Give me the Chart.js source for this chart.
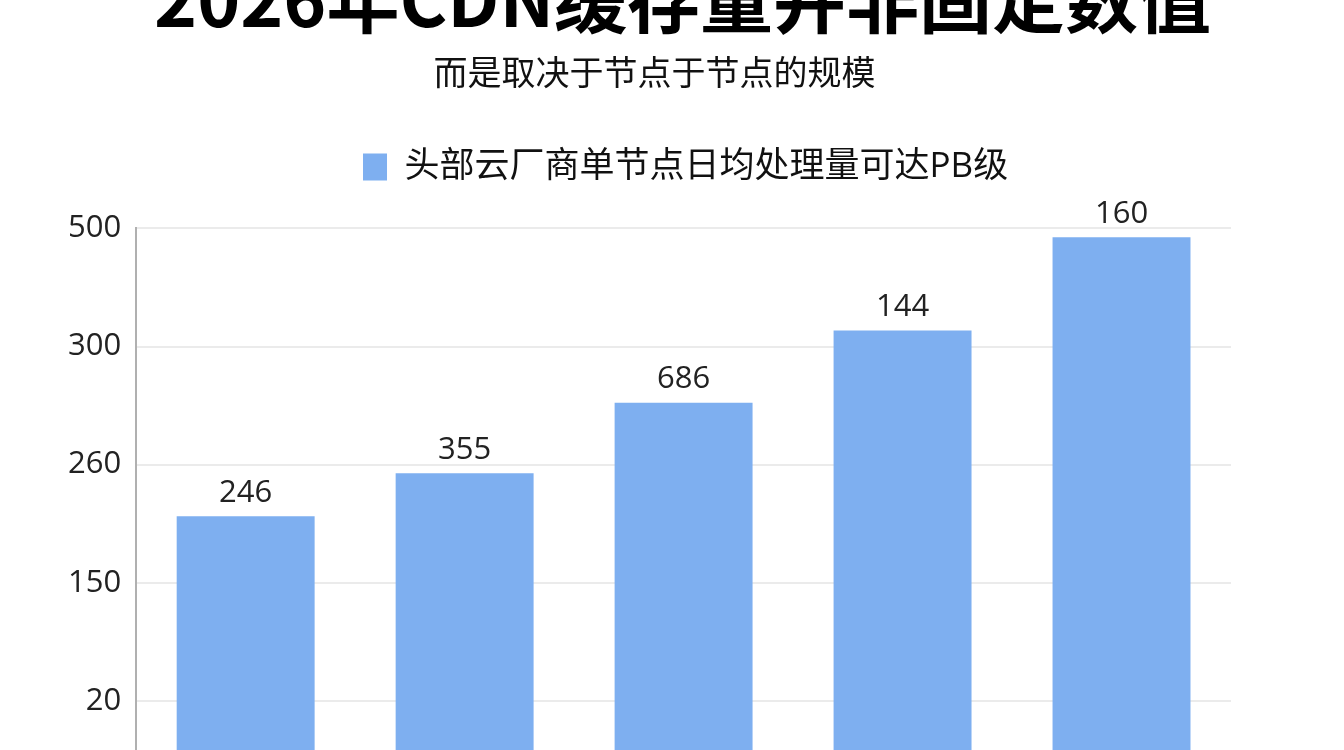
<!DOCTYPE html>
<html>
<head>
<meta charset="utf-8">
<script src="https://cdn.jsdelivr.net/npm/chart.js@4"></script>
<style>
  html, body { margin: 0; padding: 0; background: #ffffff; overflow: hidden; }
  #wrap { position: absolute; left: 0; top: -40px; width: 1344px; height: 929px; }
</style>
</head>
<body>
<div id="wrap"><canvas id="cdnChart"></canvas></div>
<script>
// values
const categories = ['节点1', '节点2', '节点3', '节点4', '节点5'];
const barValues = [212, 252, 281, 327, 485];      // bar heights against the y axis
const barLabels = ['246', '355', '686', '144', '160']; // numbers printed above the bars
const yTicks = [0, 20, 150, 260, 300, 500];       // y axis tick labels (evenly spaced)

const titleText = '2026年CDN缓存量并非固定数值';
const subtitleText = '而是取决于节点于节点的规模';
const seriesName = '头部云厂商单节点日均处理量可达PB级';

const barColor = '#7eaff0';
const fontFamily = '"Open Sans", "Noto Sans CJK SC", sans-serif';

// y axis whose ticks sit at equal spacing, linear between neighbouring ticks
class StopScale extends Chart.LinearScale {
    determineDataLimits() {
        const s = this.options.stops;
        this.min = s[0];
        this.max = s[s.length - 1];
    }
    buildTicks() {
        return this.options.stops.map(v => ({ value: v }));
    }
    _decimalFor(value) {
        const s = this.options.stops;
        const n = s.length - 1;
        if (value <= s[0]) return 0;
        for (let i = 0; i < n; i++) {
            if (value <= s[i + 1]) {
                return (i + (value - s[i]) / (s[i + 1] - s[i])) / n;
            }
        }
        return 1;
    }
    getPixelForValue(value) {
        return this.getPixelForDecimal(this._decimalFor(value));
    }
    getValueForPixel(pixel) {
        const s = this.options.stops;
        const n = s.length - 1;
        const d = this.getDecimalForPixel(pixel) * n;
        const i = Math.max(0, Math.min(n - 1, Math.floor(d)));
        return s[i] + (d - i) * (s[i + 1] - s[i]);
    }
}
StopScale.id = 'stops';
StopScale.defaults = Chart.LinearScale.defaults;
Chart.register(StopScale);

// extra room under the legend
const legendGap = {
    id: 'legendGap',
    beforeInit(chart) {
        const fit = chart.legend.fit;
        chart.legend.fit = function () {
            fit.bind(chart.legend)();
            this.height += 34;
        };
    }
};

// header blocks are centred over the plot area rather than the whole canvas
const centreHeaders = {
    id: 'centreHeaders',
    afterLayout(chart) {
        const area = chart.chartArea;
        const mid = (area.left + area.right) / 2;
        const shifts = { title: -1, subtitle: -29, legend: 2 };
        chart.boxes.forEach(box => {
            let key = null;
            if (box === chart.titleBlock) key = 'title';
            else if (box === chart.legend) key = 'legend';
            else if (box.options && box.options.text === subtitleText) key = 'subtitle';
            if (!key) return;
            const dx = mid + shifts[key] - (box.left + box.right) / 2;
            box.left += dx;
            box.right += dx;
        });
    }
};

// numbers above the bars
const barNumbers = {
    id: 'barNumbers',
    afterDatasetsDraw(chart) {
        const ctx = chart.ctx;
        const meta = chart.getDatasetMeta(0);
        ctx.save();
        ctx.font = '31px ' + fontFamily;
        ctx.fillStyle = '#222222';
        ctx.textAlign = 'center';
        ctx.textBaseline = 'bottom';
        meta.data.forEach((bar, i) => {
            ctx.fillText(barLabels[i], bar.x, bar.y - 8);
        });
        ctx.restore();
    }
};

const ctx = document.getElementById('cdnChart').getContext('2d');

new Chart(ctx, {
    type: 'bar',
    data: {
        labels: categories,
        datasets: [{
            label: seriesName,
            data: barValues,
            backgroundColor: barColor,
            borderWidth: 0,
            barPercentage: 0.63,
            categoryPercentage: 1.0
        }]
    },
    options: {
        responsive: true,
        maintainAspectRatio: false,
        animation: false,
        layout: { padding: { left: 53, right: 113, top: 0, bottom: 62 } },
        plugins: {
            title: {
                display: true,
                text: titleText,
                color: '#000000',
                font: { family: '"Noto Sans CJK SC", sans-serif', size: 73, weight: 'bold' },
                padding: { top: -5, bottom: 9 }
            },
            subtitle: {
                display: true,
                text: subtitleText,
                color: '#111111',
                font: { family: '"Noto Sans CJK SC", sans-serif', size: 34 },
                padding: { top: 0, bottom: 47 }
            },
            legend: {
                display: true,
                labels: {
                    color: '#111111',
                    font: { family: fontFamily, size: 35 },
                    boxWidth: 24,
                    boxHeight: 27,
                    padding: 10
                }
            },
            tooltip: { enabled: false }
        },
        scales: {
            x: {
                grid: { display: false },
                border: { display: false },
                ticks: { display: false }
            },
            y: {
                type: 'stops',
                stops: yTicks,
                grid: { color: '#ebebeb', lineWidth: 2, drawTicks: false },
                border: { display: true, color: '#b0b0b0', width: 2 },
                ticks: {
                    color: '#222222',
                    padding: 15,
                    font: { family: fontFamily, size: 31 }
                }
            }
        }
    },
    plugins: [legendGap, centreHeaders, barNumbers]
});
</script>
</body>
</html>
